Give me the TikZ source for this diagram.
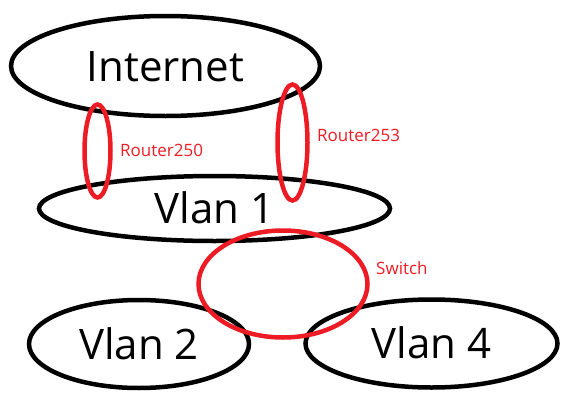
\documentclass[tikz,border=0pt]{standalone}
\usepackage{fontspec}
\setmainfont{Open Sans}
\usetikzlibrary{shapes.geometric}
\definecolor{paintred}{RGB}{237,28,36}

\begin{document}
\begin{tikzpicture}[x=1pt, y=-1pt,
    net/.style={draw, ellipse, line width=4.5pt, inner sep=0pt,
                font=\fontsize{42}{50}\selectfont,
                text height=30pt, text depth=0pt},
    dev/.style={draw=paintred, ellipse, line width=4.5pt, inner sep=0pt},
    devlabel/.style={anchor=west, inner sep=0pt, text=paintred,
                     font=\fontsize{17}{20}\selectfont,
                     text height=12pt, text depth=0pt},
]
\useasboundingbox (0,0) rectangle (563,402);
\node[net, minimum width=309pt, minimum height=100pt] (internet) at (165.5,66) {Internet};
\node[net, minimum width=351pt, minimum height=65pt]  (vlanone)  at (214.5,208.5) {Vlan 1};
\node[net, minimum width=220pt, minimum height=88pt]  (vlantwo)  at (139,344) {Vlan 2};
\node[net, minimum width=252pt, minimum height=88pt]  (vlanfour) at (431.5,343.5) {Vlan 4};
\node[dev, minimum width=26pt,  minimum height=93pt]  (rtrA)   at (97.5,151) {};
\node[dev, minimum width=30pt,  minimum height=116pt] (rtrB)   at (292.5,142.5) {};
\node[dev, minimum width=169pt, minimum height=107pt] (switch) at (283,284) {};
\node[devlabel] (rtrAlabel)   at (120,150) {Router250};
\node[devlabel] (rtrBlabel)   at (317,135) {Router253};
\node[devlabel] (switchlabel) at (376,268) {Switch};
\end{tikzpicture}
\end{document}
